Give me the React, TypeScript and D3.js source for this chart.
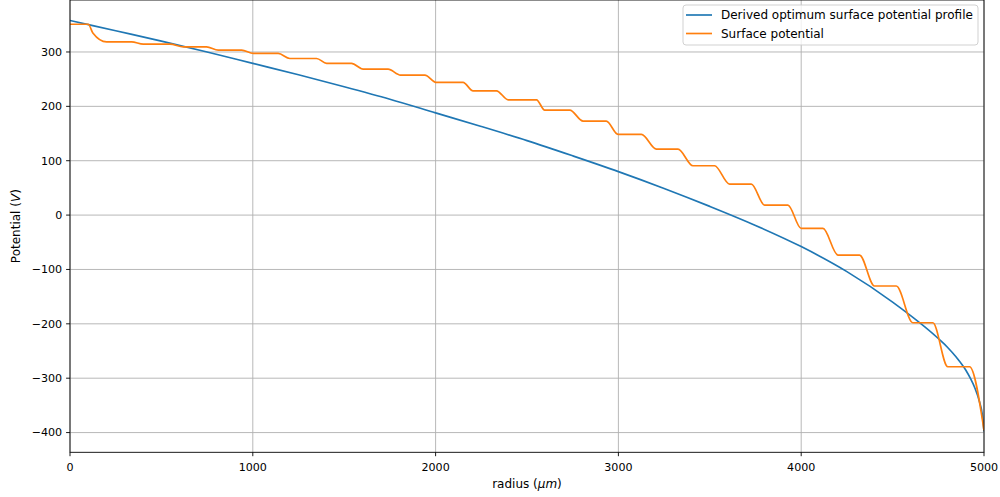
import React from "react";
import * as d3 from "d3";

// Derived optimum surface potential profile (radius in µm, potential in V)
const blueR = [0, 250, 500, 750, 1000, 1250, 1500, 1750, 2000, 2250, 2500, 2750, 3000, 3250, 3500, 3750, 4000, 4250, 4500, 4750, 4800, 4850, 4900, 4925, 4950, 4975, 4990, 5000];
const blueV = [358, 339, 320, 300, 279, 258, 236, 213, 188, 163, 137, 109, 80, 49, 16, -19, -58, -104, -160, -227, -243, -262, -285, -300, -318, -343, -365, -398];

// Surface potential plateaus: start radius, end radius, value
const plateauStart = [0, 200, 401, 620, 811, 1003, 1203, 1404, 1604, 1808, 2005, 2205, 2397, 2597, 2807, 2998, 3208, 3408, 3608, 3800, 4000, 4201, 4401, 4611, 4802];
const plateauEnd = [100, 337, 547, 747, 939, 1139, 1349, 1540, 1740, 1941, 2150, 2333, 2552, 2734, 2934, 3126, 3326, 3526, 3727, 3927, 4119, 4319, 4520, 4720, 4921];
const plateauV = [351, 318.6, 314.4, 309.5, 303.4, 297.3, 288, 279, 268.4, 257.4, 244, 228.6, 212, 193, 172.8, 148.4, 121.3, 90.7, 57, 18.4, -24.5, -73.5, -130.5, -198, -279];
const orangeEnd = { r: 5000, v: -396 };
const orangeKink = { r: 125, v: 335 };

const xTicks = [0, 1000, 2000, 3000, 4000, 5000];
const yTicks = [-400, -300, -200, -100, 0, 100, 200, 300];

const seriesNames = ["Derived optimum surface potential profile", "Surface potential"];
const colors = ["#1f77b4", "#ff7f0e"];

export default function App() {
  const W = 1000, H = 497;
  const left = 70, right = 984, top = 0, bottom = 452.3;
  const x = d3.scaleLinear().domain([0, 5000]).range([left, right]);
  const y = d3.scaleLinear().domain([-436.3, 395.6]).range([bottom, top]);
  const fs = 11.1;
  const fsLabel = 12;
  const font = "DejaVu Sans, sans-serif";

  const bluePts: [number, number][] = blueR.map((r, i) => [r, blueV[i]]);
  const orangePts: [number, number][] = [];
  plateauStart.forEach((s, i) => {
    orangePts.push([s, plateauV[i]]);
    orangePts.push([plateauEnd[i], plateauV[i]]);
    if (i === 0) orangePts.push([orangeKink.r, orangeKink.v]);
  });
  orangePts.push([orangeEnd.r, orangeEnd.v]);

  const line = d3
    .line<[number, number]>()
    .x((d) => x(d[0]))
    .y((d) => y(d[1]))
    .curve(d3.curveMonotoneX);

  const tickLen = 3.9;
  const fmt = (v: number) => (v < 0 ? "\u2212" + Math.abs(v) : String(v));

  const legX = 683, legY = 5, legW = 295, legH = 40;

  return (
    <svg width={W} height={H} style={{ position: "absolute", left: 0, top: 0, background: "#fff" }} fontFamily={font}>
      <rect x={0} y={0} width={W} height={H} fill="#fff" />
      <defs>
        <clipPath id="plot">
          <rect x={left} y={top} width={right - left} height={bottom - top} />
        </clipPath>
      </defs>
      {/* grid */}
      {xTicks.map((t) => (
        <line key={"gx" + t} x1={x(t)} x2={x(t)} y1={top} y2={bottom} stroke="#b0b0b0" strokeWidth={0.9} />
      ))}
      {yTicks.map((t) => (
        <line key={"gy" + t} x1={left} x2={right} y1={y(t)} y2={y(t)} stroke="#b0b0b0" strokeWidth={0.9} />
      ))}
      {/* lines */}
      <g clipPath="url(#plot)">
        <path d={line(bluePts) || ""} fill="none" stroke={colors[0]} strokeWidth={1.67} />
        <path d={line(orangePts) || ""} fill="none" stroke={colors[1]} strokeWidth={1.67} />
      </g>
      {/* spines */}
      <rect x={left} y={top} width={right - left} height={bottom - top} fill="none" stroke="#000" strokeWidth={0.9} />
      {/* x ticks */}
      {xTicks.map((t) => (
        <g key={"xt" + t}>
          <line x1={x(t)} x2={x(t)} y1={bottom} y2={bottom + tickLen} stroke="#000" strokeWidth={0.9} />
          <text x={x(t)} y={bottom + 18.3} textAnchor="middle" fontSize={fs} fill="#000">{fmt(t)}</text>
        </g>
      ))}
      {yTicks.map((t) => (
        <g key={"yt" + t}>
          <line x1={left - tickLen} x2={left} y1={y(t)} y2={y(t)} stroke="#000" strokeWidth={0.9} />
          <text x={left - 2 * tickLen} y={y(t)} dy="0.35em" textAnchor="end" fontSize={fs} fill="#000">{fmt(t)}</text>
        </g>
      ))}
      {/* axis labels */}
      <text x={527} y={488.3} textAnchor="middle" fontSize={fsLabel} fill="#000">
        radius (<tspan fontStyle="italic">μm</tspan>)
      </text>
      <text transform={`translate(20, ${(top + bottom) / 2}) rotate(-90)`} textAnchor="middle" fontSize={fsLabel} fill="#000">
        Potential (<tspan fontStyle="italic">V</tspan>)
      </text>
      {/* legend */}
      <rect x={legX} y={legY} width={legW} height={legH} rx={3} fill="#fff" fillOpacity={0.8} stroke="#cccccc" strokeWidth={0.9} />
      {seriesNames.map((n, i) => (
        <g key={n}>
          <line x1={686} x2={712} y1={15 + i * 18.5} y2={15 + i * 18.5} stroke={colors[i]} strokeWidth={1.67} />
          <text x={721} y={15 + i * 18.5} dy="0.35em" fontSize={fsLabel} fill="#000">{n}</text>
        </g>
      ))}
    </svg>
  );
}
